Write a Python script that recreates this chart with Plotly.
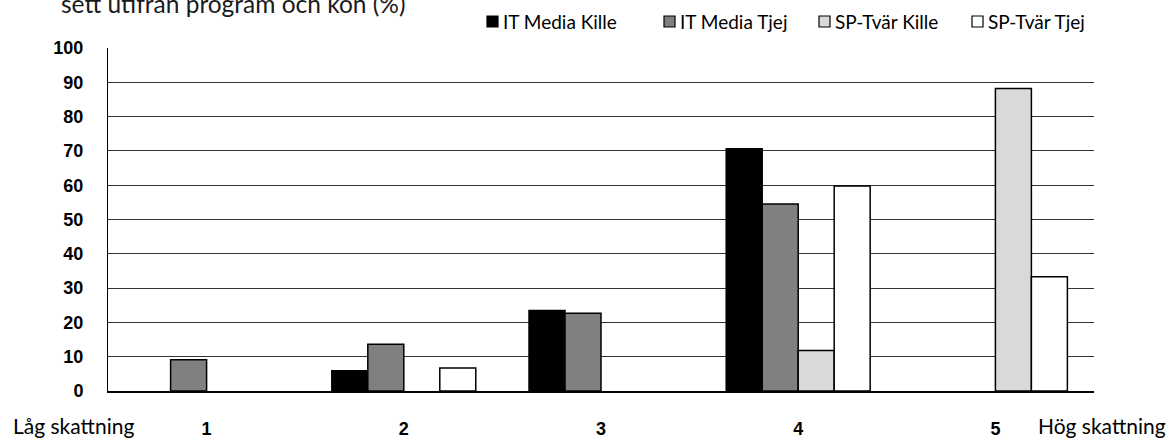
import plotly.graph_objects as go

categories = ["1", "2", "3", "4", "5"]
it_media_kille = [0, 5.9, 23.5, 70.6, 0]
it_media_tjej = [9.1, 13.6, 22.7, 54.5, 0]
sp_tvar_kille = [0, 0, 0, 11.8, 88.2]
sp_tvar_tjej = [0, 6.7, 0, 59.8, 33.3]
series_names = ["IT Media Kille", "IT Media Tjej", "SP-Tvär Kille", "SP-Tvär Tjej"]
series_colors = ["#000000", "#808080", "#d9d9d9", "#ffffff"]
y_ticks = [0, 10, 20, 30, 40, 50, 60, 70, 80, 90, 100]

W, H = 1173, 439
L, R, T, B = 108, 1094, 48, 391

def px(x):
    return (x - L) / (R - L)

def py(y):
    return (B - y) / (B - T)

fig = go.Figure()
for name, vals, col in zip(series_names, [it_media_kille, it_media_tjej, sp_tvar_kille, sp_tvar_tjej], series_colors):
    fig.add_trace(go.Bar(
        x=categories, y=vals, name=name,
        marker=dict(color=col, line=dict(color="#000000", width=[1.5 if v > 0 else 0 for v in vals])),
        showlegend=False,
    ))

fig.update_layout(
    width=W, height=H,
    margin=dict(l=L, r=W - R, t=T, b=H - B, pad=0, autoexpand=False),
    paper_bgcolor="white", plot_bgcolor="white",
    barmode="group", bargap=0.27, bargroupgap=0,
    font=dict(family="Lato", color="#000000"),
    xaxis=dict(
        type="category", showgrid=False, showline=True, linecolor="#000000", linewidth=1.5,
        ticks="", tickfont=dict(family="Liberation Sans", size=18, color="#000000", weight="bold"),
        ticklabelstandoff=21, automargin=False,
    ),
    yaxis=dict(
        range=[0, 100], tickvals=y_ticks, showgrid=True, gridcolor="#333333", gridwidth=1,
        showline=True, linecolor="#000000", linewidth=1, zeroline=False,
        ticks="", tickfont=dict(family="Liberation Sans", size=18, color="#000000", weight="bold"),
        ticklabelstandoff=20, automargin=False,
    ),
)

# title (partially clipped at top, as in the source image)
fig.add_annotation(text="sett utifrån program och kön (%)", xref="paper", yref="paper",
                   x=px(59), y=py(19.5), xanchor="left", yanchor="bottom", showarrow=False,
                   font=dict(family="Lato", size=24.5, color="#1a1a1a"))

# legend
leg_sq = [487, 664, 819, 972]
for x0, name, col in zip(leg_sq, series_names, series_colors):
    fig.add_shape(type="rect", xref="paper", yref="paper",
                  x0=px(x0), x1=px(x0 + 11), y0=py(27), y1=py(16),
                  fillcolor=col, line=dict(color="#000000", width=1.2))
    fig.add_annotation(text=name, xref="paper", yref="paper", x=px(x0 + 14), y=py(21.5),
                       xanchor="left", yanchor="middle", showarrow=False,
                       font=dict(family="Lato", size=19, color="#000000"))

# end labels
fig.add_annotation(text="Låg skattning", xref="paper", yref="paper", x=px(11), y=py(426),
                   xanchor="left", yanchor="middle", showarrow=False,
                   font=dict(family="Lato", size=21, color="#000000"))
fig.add_annotation(text="Hög skattning", xref="paper", yref="paper", x=px(1168), y=py(426),
                   xanchor="right", yanchor="middle", showarrow=False,
                   font=dict(family="Lato", size=21, color="#000000"))

fig.write_html("out.html", config={"displayModeBar": False},
               post_script="document.body.style.margin='0';document.body.style.overflow='hidden';")
